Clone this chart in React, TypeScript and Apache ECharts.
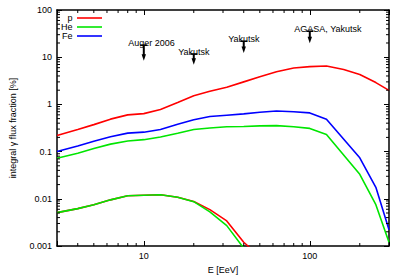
import React, { useEffect, useRef } from "react";
import * as echarts from "echarts";

const energies = [3, 4, 5, 6.3, 8, 10, 12.6, 16, 20, 25, 31.6, 40, 50, 63, 80, 100, 126, 160, 200, 250, 300];
const pUpper = [0.22, 0.294, 0.373, 0.487, 0.6, 0.638, 0.78, 1.1, 1.53, 1.9, 2.3, 3.0, 3.85, 4.9, 5.9, 6.3, 6.5, 5.5, 4.3, 2.9, 1.98];
const heUpper = [0.072, 0.092, 0.116, 0.144, 0.168, 0.179, 0.204, 0.245, 0.294, 0.317, 0.335, 0.34, 0.35, 0.355, 0.335, 0.31, 0.23, null, 0.033, 0.0075, 0.0012];
const feUpper = [0.1, 0.131, 0.166, 0.206, 0.246, 0.258, 0.294, 0.378, 0.473, 0.553, 0.59, 0.63, 0.68, 0.727, 0.7, 0.66, 0.487, null, 0.074, 0.0175, 0.0022];
const pLower = [0.0051, 0.0062, 0.0075, 0.0095, 0.0116, 0.0119, 0.0122, 0.0108, 0.0088, 0.0059, 0.0034, 0.0012, 0.0006, null, null, null, null, null, null, null, null];
const heLower = [0.0051, 0.0062, 0.0075, 0.0095, 0.0116, 0.0119, 0.0122, 0.0108, 0.0087, 0.0053, 0.0027, 0.0009, null, null, null, null, null, null, null, null, null];

const xTickLabels = ["10", "100"];
const yTickLabels = ["0.001", "0.01", "0.1", "1", "10", "100"];
const xMinorTicks = [4, 5, 6, 7, 8, 9, 20, 30, 40, 50, 60, 70, 80, 90, 200];
const yMinorTicks = [
  0.002, 0.003, 0.004, 0.005, 0.006, 0.007, 0.008, 0.009,
  0.02, 0.03, 0.04, 0.05, 0.06, 0.07, 0.08, 0.09,
  0.2, 0.3, 0.4, 0.5, 0.6, 0.7, 0.8, 0.9,
  2, 3, 4, 5, 6, 7, 8, 9,
  20, 30, 40, 50, 60, 70, 80, 90,
];

const annotationLabels = ["Auger 2006", "Yakutsk", "Yakutsk", "AGASA, Yakutsk"];
const annotationE = [10, 20, 40, 100];
const annotationTop = [18, 11.7, 21.8, 35.5];
const annotationTip = [8.4, 6.9, 12.3, 19.8];

const legendNames = ["p", "He", "Fe"];
const RED = "#ff0000";
const GREEN = "#00e600";
const BLUE = "#0000ff";
const legendColors = [RED, GREEN, BLUE];

const FONT = "'Liberation Sans', Arial, Helvetica, sans-serif";

function pairs(vals: (number | null)[]) {
  return energies.map((e, i) => [e, vals[i]]);
}

function decadeLabel(v: number, labels: string[], offset: number) {
  const l = Math.log10(v);
  const e = Math.round(l);
  if (Math.abs(l - e) > 1e-6) return "";
  return labels[e + offset] ?? "";
}

export default function App() {
  const ref = useRef<HTMLDivElement>(null);
  useEffect(() => {
    if (!ref.current) return;
    const chart = echarts.init(ref.current, undefined, { renderer: "svg" });
    const axisCommon = {
      type: "log" as const,
      logBase: 10,
      axisLine: { show: true, onZero: false, lineStyle: { color: "#000", width: 1.5 } },
      axisTick: { show: true, inside: true, length: 5, lineStyle: { color: "#000", width: 1 } },
      splitLine: { show: false },
    };
    const lineSeries = (data: any, color: string, z: number) => ({
      type: "line",
      data,
      showSymbol: false,
      symbol: "none",
      connectNulls: true,
      clip: true,
      z,
      lineStyle: { color, width: 1.6 },
      itemStyle: { color },
    });
    const option: any = {
      animation: false,
      grid: { left: 56, right: 10, top: 10, bottom: 27 },
      xAxis: [
        {
          ...axisCommon,
          position: "bottom",
          min: 3,
          max: 300,
          name: "E [EeV]",
          nameLocation: "middle",
          nameGap: 19,
          nameTextStyle: { fontSize: 9, fontFamily: FONT, color: "#000" },
          axisLabel: {
            fontSize: 9,
            fontFamily: FONT,
            color: "#000",
            margin: 5,
            formatter: (v: number) => decadeLabel(v, xTickLabels, -1),
          },
        },
        {
          ...axisCommon,
          position: "top",
          min: 3,
          max: 300,
          axisLabel: { show: false },
        },
      ],
      yAxis: [
        {
          ...axisCommon,
          position: "left",
          min: 0.001,
          max: 100,
          name: "integral γ flux fraction [%]",
          nameLocation: "middle",
          nameGap: 40,
          nameTextStyle: { fontSize: 9, fontFamily: FONT, color: "#000" },
          axisLabel: {
            fontSize: 9,
            fontFamily: FONT,
            color: "#000",
            margin: 5,
            formatter: (v: number) => decadeLabel(v, yTickLabels, 3),
          },
        },
        {
          ...axisCommon,
          position: "right",
          min: 0.001,
          max: 100,
          axisLabel: { show: false },
        },
      ],
      graphic: legendNames.flatMap((n, i) => [
        {
          type: "text",
          x: 72.5,
          y: 18 + i * 9,
          style: { text: n, fontSize: 9, fontFamily: FONT, fill: "#000", align: "right", verticalAlign: "middle" },
        },
        {
          type: "line",
          shape: { x1: 77, y1: 18 + i * 9, x2: 102, y2: 18 + i * 9 },
          style: { stroke: legendColors[i], lineWidth: 1.6 },
        },
      ]),
      series: [
        lineSeries(pairs(pLower), RED, 2),
        lineSeries(pairs(heLower), GREEN, 3),
        lineSeries(pairs(pUpper), RED, 2),
        lineSeries(pairs(heUpper), GREEN, 2),
        lineSeries(pairs(feUpper), BLUE, 2),
        {
          type: "custom",
          z: 5,
          data: xMinorTicks.map((v) => [v, 1]),
          renderItem: (params: any, api: any) => {
            const cs = params.coordSys;
            const x = api.coord([api.value(0), 1])[0];
            const yb = cs.y + cs.height;
            const yt = cs.y;
            return {
              type: "group",
              children: [
                { type: "line", shape: { x1: x, y1: yb, x2: x, y2: yb - 3 }, style: { stroke: "#000", lineWidth: 1 } },
                { type: "line", shape: { x1: x, y1: yt, x2: x, y2: yt + 3 }, style: { stroke: "#000", lineWidth: 1 } },
              ],
            };
          },
        },
        {
          type: "custom",
          z: 5,
          data: yMinorTicks.map((v) => [10, v]),
          renderItem: (params: any, api: any) => {
            const cs = params.coordSys;
            const y = api.coord([10, api.value(1)])[1];
            const xl = cs.x;
            const xr = cs.x + cs.width;
            return {
              type: "group",
              children: [
                { type: "line", shape: { x1: xl, y1: y, x2: xl + 3, y2: y }, style: { stroke: "#000", lineWidth: 1 } },
                { type: "line", shape: { x1: xr, y1: y, x2: xr - 3, y2: y }, style: { stroke: "#000", lineWidth: 1 } },
              ],
            };
          },
        },
        {
          type: "custom",
          z: 6,
          data: annotationE.map((e, i) => [e, annotationTop[i], annotationTip[i]]),
          renderItem: (params: any, api: any) => {
            const e = api.value(0);
            const pTop = api.coord([e, api.value(1)]);
            const pTip = api.coord([e, api.value(2)]);
            const x = pTop[0];
            const yTop = pTop[1];
            const yTip = pTip[1];
            return {
              type: "group",
              children: [
                {
                  type: "text",
                  x: x - 15.5,
                  y: yTop + 2.5,
                  style: {
                    text: annotationLabels[params.dataIndex],
                    fontSize: 9,
                    fontFamily: FONT,
                    fill: "#000",
                    align: "left",
                    verticalAlign: "bottom",
                  },
                },
                { type: "line", shape: { x1: x - 3.5, y1: yTop, x2: x + 3.5, y2: yTop }, style: { stroke: "#000", lineWidth: 1.6 } },
                { type: "line", shape: { x1: x, y1: yTop, x2: x, y2: yTip - 5 }, style: { stroke: "#000", lineWidth: 2 } },
                {
                  type: "polygon",
                  shape: { points: [[x - 2.2, yTip - 6.5], [x + 2.2, yTip - 6.5], [x, yTip]] },
                  style: { fill: "#000" },
                },
              ],
            };
          },
        },
      ],
    };
    chart.setOption(option);
    return () => chart.dispose();
  }, []);
  return <div ref={ref} style={{ position: "absolute", left: 0, top: 0, width: 399, height: 279 }} />;
}
